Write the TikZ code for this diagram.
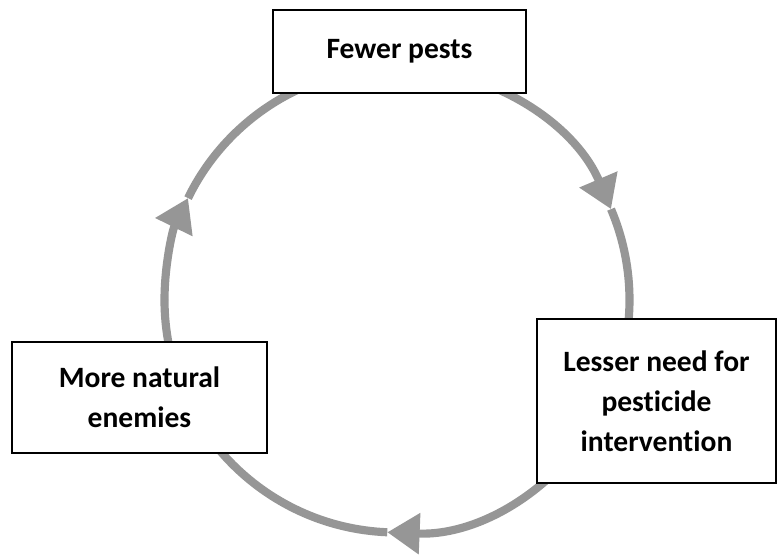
\documentclass[tikz,border=0pt]{standalone}
\usepackage{fontspec}
\setmainfont{Carlito}[Ligatures=NoCommon]
\usepackage{tikz}
\usetikzlibrary{shapes, positioning, arrows.meta, calc}

\definecolor{ringgray}{RGB}{150,150,150}

\begin{document}
\begin{tikzpicture}[
    x=0.025cm, y=0.025cm,
    ring/.style={draw=ringgray, line width=5.8pt},
    tip/.style={-{Triangle[length=23pt, width=28pt]}},
    box/.style={draw, line width=1pt, fill=white, align=center, inner sep=0pt,
        font=\fontsize{21}{28.5}\selectfont\bfseries}
]
\useasboundingbox (0,0) rectangle (778,-557);

% --- The cycle ---
\coordinate (c) at (397,-300);
\def\r{232.5}

% Fewer pests -> lesser need
\draw[ring, tip] ([shift={(90:\r)}]c) arc[start angle=90, end angle=23, radius=\r];
\draw[ring] ([shift={(23:\r)}]c) arc[start angle=23, end angle=-20, radius=\r];
% Lesser need -> more natural enemies
\draw[ring, tip] ([shift={(-20:\r)}]c) arc[start angle=-20, end angle=-92.4, radius=\r];
\draw[ring] ([shift={(-92.4:\r)}]c) arc[start angle=-92.4, end angle=-180, radius=\r];
% More natural enemies -> fewer pests
\draw[ring, tip] ([shift={(180:\r)}]c) arc[start angle=180, end angle=154, radius=\r];
\draw[ring] ([shift={(154:\r)}]c) arc[start angle=154, end angle=90, radius=\r];

% --- Boxes ---
\node[box, minimum width=6.325cm, minimum height=2.075cm] (pests) at (399.5,-51.5) {Fewer pests};
\node[box, minimum width=5.975cm, minimum height=4.1cm] (need) at (656.5,-401)
    {Lesser need for\\pesticide\\intervention};
\node[box, minimum width=6.375cm, minimum height=2.775cm] (enemies) at (139.5,-397.5)
    {More natural\\enemies};

\end{tikzpicture}
\end{document}
